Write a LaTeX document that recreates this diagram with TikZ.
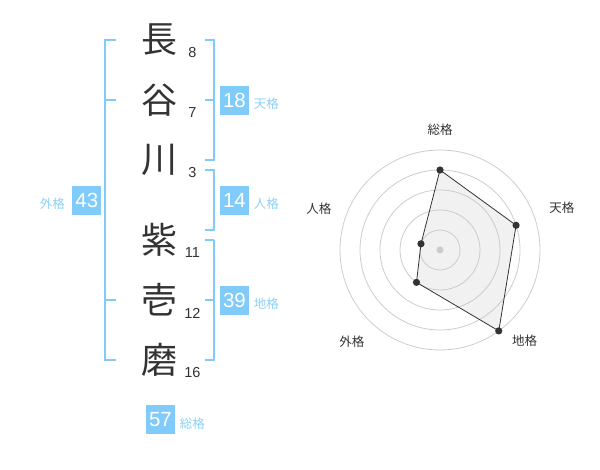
\documentclass[tikz,border=0pt]{standalone}
\usepackage{fontspec}
\setsansfont{Liberation Sans}
\newfontfamily\jpfont{Noto Sans CJK JP}
\usetikzlibrary{positioning,calc}
\definecolor{kakublue}{RGB}{128,203,250}
\definecolor{kakulight}{RGB}{140,208,248}
\definecolor{inkgray}{RGB}{51,51,51}
\definecolor{ringgray}{RGB}{204,204,204}
\definecolor{areagray}{RGB}{241,241,241}

\begin{document}
\begin{tikzpicture}[x=1pt, y=-1pt,
	kanji/.style={inner sep=0, text=inkgray, font=\jpfont\fontsize{36}{36}\selectfont},
	strokes/.style={inner sep=0, text=inkgray, font=\sffamily\fontsize{14.5}{14.5}\selectfont},
	bracket/.style={draw=kakublue, line width=2.5pt},
	kakubox/.style={fill=kakublue, text=white, minimum size=29pt, inner sep=0, font=\sffamily\fontsize{20.5}{20.5}\selectfont},
	kakulabel/.style={inner sep=0, text=kakulight, font=\jpfont\fontsize{12.5}{12.5}\selectfont},
	ring/.style={draw=ringgray, line width=0.8pt},
	axislabel/.style={inner sep=0, text=inkgray, font=\jpfont\fontsize{12.5}{12.5}\selectfont}]
\useasboundingbox (0,0) rectangle (600,470);

% name and stroke counts
\node[kanji] (c1) at (159,40) {長};
\node[kanji] (c2) at (159,100) {谷};
\node[kanji] (c3) at (159,160) {川};
\node[kanji] (c4) at (159,240) {紫};
\node[kanji] (c5) at (159,300) {壱};
\node[kanji] (c6) at (159,360) {磨};
\node[strokes] (s1) at (192.5,53) {8};
\node[strokes] (s2) at (192.5,113) {7};
\node[strokes] (s3) at (192.5,173) {3};
\node[strokes] (s4) at (192.5,253) {11};
\node[strokes] (s5) at (192.5,313) {12};
\node[strokes] (s6) at (192.5,373) {16};

% brackets
\coordinate (lx) at (105,0);
\coordinate (rx) at (214,0);
\draw[bracket] ($(c1 -| lx)+(11,0)$) -- (c1 -| lx) -- (c6 -| lx) -- ($(c6 -| lx)+(11,0)$);
\draw[bracket] (c2 -| lx) -- ++(11,0);
\draw[bracket] (c5 -| lx) -- ++(11,0);
\draw[bracket] ($(c1 -| rx)+(-9,0)$) -- (c1 -| rx) -- (c3 -| rx) -- ++(-9,0);
\draw[bracket] (c2 -| rx) -- ++(-9,0);
\draw[bracket] ($(c3 -| rx)+(-9,10)$) -- ($(c3 -| rx)+(0,10)$) -- ($(c4 -| rx)+(0,-10)$) -- ++(-9,0);
\draw[bracket] (c4 -| rx) -- ++(-9,0) (c4 -| rx) -- (c6 -| rx) -- ++(-9,0);
\draw[bracket] (c5 -| rx) -- ++(-9,0);

% scores
\node[kakubox] (ten) at (234.5,100.5) {18};
\node[kakulabel, right=4.5pt of ten, yshift=-3.5pt] (tenlbl) {天格};
\node[kakubox] (jin) at (234.5,200.5) {14};
\node[kakulabel, right=4.5pt of jin, yshift=-3pt] (jinlbl) {人格};
\node[kakubox] (gai) at (86.8,200.5) {43};
\node[kakulabel, left=7pt of gai, yshift=-3pt] (gailbl) {外格};
\node[kakubox] (chi) at (234.5,300.3) {39};
\node[kakulabel, right=4.5pt of chi, yshift=-3pt] (chilbl) {地格};
\node[kakubox] (sou) at (160.5,419.3) {57};
\node[kakulabel, right=4.5pt of sou, yshift=-4pt] (soulbl) {総格};

% radar chart
\begin{scope}[shift={(440,250)}]
\coordinate (psou) at (90:80pt);
\coordinate (pten) at (18:80pt);
\coordinate (pchi) at (-54:100pt);
\coordinate (pgai) at (-126:40pt);
\coordinate (pjin) at (162:20pt);
\fill[areagray] (psou) -- (pten) -- (pchi) -- (pgai) -- (pjin) -- cycle;
\foreach \r in {20,40,...,100}
	\draw[ring] (0,0) circle[radius=\r];
\draw[inkgray, line width=0.8pt] (psou) -- (pten) -- (pchi) -- (pgai) -- (pjin) -- cycle;
\fill[ringgray] (0,0) circle[radius=3.5];
\foreach \p in {psou,pten,pchi,pgai,pjin}
	\fill[inkgray] (\p) circle[radius=3.6];
\node[axislabel] (asou) at (90:120pt) {総格};
\node[axislabel] (aten) at (19:129pt) {天格};
\node[axislabel] (achi) at (-47:124pt) {地格};
\node[axislabel] (agai) at (-134:127pt) {外格};
\node[axislabel] (ajin) at (161:128pt) {人格};
\end{scope}
\end{tikzpicture}
\end{document}
